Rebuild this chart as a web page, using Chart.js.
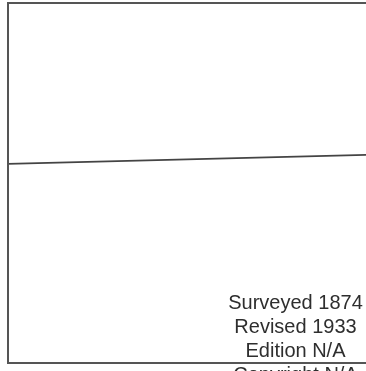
<!DOCTYPE html>
<html>
<head>
<meta charset="utf-8">
<script src="https://cdn.jsdelivr.net/npm/chart.js@4/dist/chart.umd.min.js"></script>
<style>
    html, body { margin: 0; padding: 0; background: #fff; overflow: hidden; }
    #wrap { position: relative; width: 366px; height: 371px; overflow: hidden; }
    #chart { position: absolute; left: 0; top: 0; }
    #notes {
        position: absolute; left: 195px; width: 201px; top: 290px;
        text-align: center; font-family: "Liberation Sans", Arial, sans-serif;
        font-size: 20px; line-height: 24px; color: #2e2e2e;
    }
</style>
</head>
<body>
<div id="wrap">
    <canvas id="chart" width="366" height="371"></canvas>
    <div id="notes"></div>
</div>
<script>
const xValues = [0, 1];
const yValues = [55.3, 57.8];
const notes = ["Surveyed 1874", "Revised 1933", "Edition N/A", "Copyright N/A"];

document.getElementById("notes").innerHTML = notes.map(n => `<div>${n}</div>`).join("");

// box around the plot, open on the right where it runs off the page
const frame = {
    id: "frame",
    afterDraw(chart) {
        const { ctx, chartArea } = chart;
        ctx.save();
        ctx.strokeStyle = "#555";
        ctx.lineWidth = 2;
        ctx.strokeRect(chartArea.left, chartArea.top, chartArea.right - chartArea.left + 20, chartArea.bottom - chartArea.top);
        ctx.restore();
    }
};

const ctx = document.getElementById("chart").getContext("2d");
new Chart(ctx, {
    type: "line",
    data: {
        datasets: [{
            data: xValues.map((x, i) => ({ x: x, y: yValues[i] })),
            borderColor: "#444",
            borderWidth: 1.8,
            pointRadius: 0,
            tension: 0
        }]
    },
    options: {
        responsive: false,
        animation: false,
        layout: { padding: { left: 8, top: 3, right: 0, bottom: 8 } },
        plugins: { legend: { display: false }, tooltip: { enabled: false } },
        scales: {
            x: { type: "linear", min: 0, max: 1, display: false },
            y: { min: 0, max: 100, display: false }
        }
    },
    plugins: [frame]
});
</script>
</body>
</html>
